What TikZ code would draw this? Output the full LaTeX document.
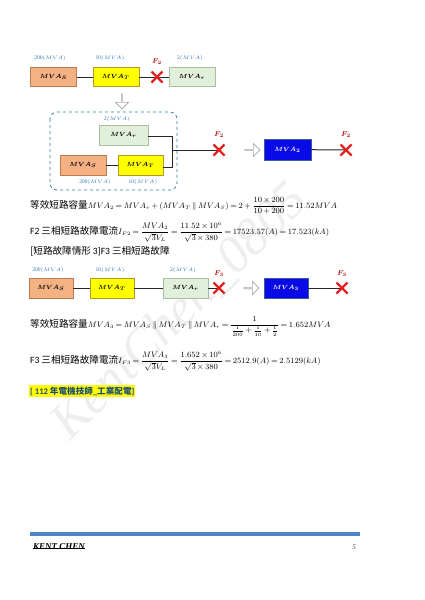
\documentclass[tikz,border=0pt]{standalone}
\usepackage{amsmath}
\usepackage{fontspec}
\setmainfont{Liberation Serif}
\newfontfamily\cjk{Noto Sans CJK TC}
\newfontfamily\calib{Carlito}
\usetikzlibrary{shapes.arrows,calc}
\definecolor{sfill}{HTML}{F4B183}
\definecolor{sdraw}{HTML}{C07A50}
\definecolor{tfill}{HTML}{FFFF00}
\definecolor{tdraw}{HTML}{B09A20}
\definecolor{rfill}{HTML}{E2EFDA}
\definecolor{rdraw}{HTML}{A8BFA0}
\definecolor{bfill}{HTML}{0A0AE6}
\definecolor{bdraw}{HTML}{3A5A9A}
\definecolor{lblue}{HTML}{2E75B6}
\definecolor{xred}{HTML}{E52222}
\definecolor{fred}{HTML}{B01515}
\definecolor{dteal}{HTML}{31859C}
\definecolor{footblue}{HTML}{4F87C4}
\definecolor{hltext}{HTML}{1F4E79}
\newcommand{\ctext}[1]{{\cjk\fontsize{9.6}{12}\selectfont #1}}
\newcommand{\ltext}[1]{{\calib\fontsize{9.6}{12}\selectfont #1}}
\newcommand{\tightmath}{\thickmuskip=3.5mu plus 2mu\medmuskip=3mu plus 1mu minus 1mu}
\tikzset{
  blk/.style={draw, line width=0.6pt, minimum width=46pt, minimum height=19pt, inner sep=0pt,
    font=\boldmath\fontsize{6}{7}\selectfont},
  sbox/.style={blk, fill=sfill, draw=sdraw},
  tbox/.style={blk, fill=tfill, draw=tdraw},
  rbox/.style={blk, fill=rfill, draw=rdraw},
  bbox/.style={blk, fill=bfill, draw=bdraw, text=white},
  mlbl/.style={text=lblue, font=\fontsize{5.5}{6}\selectfont, inner sep=0pt},
  flbl/.style={text=fred, font=\boldmath\fontsize{7.5}{8}\selectfont, inner sep=0pt},
  wire/.style={line width=1pt, black!85},
  xmark/.style={draw=xred, line width=2.4pt},
  harrow/.style={single arrow, draw=gray!70, fill=white, line width=0.6pt,
    minimum height=15pt, minimum width=13pt, single arrow head extend=2.5pt, inner sep=0pt},
  eqn/.style={anchor=base west, inner sep=0pt, font=\fontsize{7.8}{10}\selectfont\tightmath},
}
\newcommand{\redx}[1]{%
  \draw[xmark] ($(#1)+(-5.5,-5.5)$) -- ($(#1)+(5.5,5.5)$);
  \draw[xmark] ($(#1)+(-5.5,5.5)$) -- ($(#1)+(5.5,-5.5)$);}
\begin{document}
\begin{tikzpicture}[x=1pt,y=-1pt]
\useasboundingbox (0,0) rectangle (425,600);
\fill[white] (0,0) rectangle (425,600);
% watermark
\node[rotate=45, text=gray!13, font=\itshape\fontsize{52}{54}\selectfont, inner sep=0pt] (wm) at (180,312) {KentChen\_0805};

% ---------- row 1 ----------
\node[sbox] (s1) at (53.5,77) {$MVA_S$};
\node[tbox] (t1) at (116,77) {$MVA_T$};
\node[rbox] (r1) at (192,77) {$MVA_r$};
\node[mlbl] (ls1) at (50,58) {200$(MVA)$};
\node[mlbl] (lt1) at (110,58) {10$(MVA)$};
\node[mlbl] (lr1) at (190,58) {2$(MVA)$};
\coordinate (x1) at (157,77);
\draw[wire] (s1) -- (t1);
\draw[wire] (t1) -- (r1);
\redx{x1}
\node[flbl] (f1) at (157,62) {$F_2$};

% down arrow
\node[harrow, rotate=-90] (da) at (122,101) {};

% ---------- dashed group ----------
\draw[dteal, dashed, line width=0.8pt, rounded corners=7pt] (50,112) rectangle (177,190);
\node[rbox, minimum width=49pt, minimum height=20pt] (r2) at (123.5,135) {$MVA_r$};
\node[sbox, minimum height=20pt] (s2) at (83,165) {$MVA_S$};
\node[tbox, minimum width=45pt, minimum height=20pt] (t2) at (140.5,165) {$MVA_T$};
\node[mlbl] (lr2) at (117,119) {2$(MVA)$};
\node[mlbl] (ls2) at (95,182) {200$(MVA)$};
\node[mlbl] (lt2) at (143,182) {10$(MVA)$};
\coordinate (jt) at (172,136);
\coordinate (jb) at (172,167);
\coordinate (jm) at (172,150);
\coordinate (x2) at (219,150);
\draw[wire] (s2) -- (t2);
\draw[wire] (r2.east |- jt) -- (jt) -- (jb) -- (t2.east |- jb);
\draw[wire] (jm) -- (x2);
\redx{x2}
\node[flbl] (f2) at (219,135) {$F_2$};
\node[harrow] (ra1) at (252,150) {};
\node[bbox, minimum width=47pt, minimum height=21pt] (m2) at (287.5,149.5) {$MVA_2$};
\coordinate (x3) at (346,150);
\draw[wire] (m2) -- (x3);
\redx{x3}
\node[flbl] (f3) at (346,135) {$F_2$};

% ---------- equations ----------
\node[eqn] (e1) at (30,208) {\ctext{等效短路容量}$MVA_2=MVA_r+(MVA_T\parallel MVA_S)=2+\dfrac{10\times200}{10+200}=11.52MVA$};
\node[eqn] (e2) at (30,234) {\ltext{F2} \ctext{三相短路故障電流}$I_{F2}=\dfrac{MVA_2}{\sqrt{3}V_L}=\dfrac{11.52\times10^6}{\sqrt{3}\times380}=17523.57(A)=17.523(kA)$};
\node[eqn] (e3) at (30,254) {\ctext{[短路故障情形} \ltext{3]F3} \ctext{三相短路故障}};

% ---------- row 3 ----------
\node[sbox, minimum width=44pt, minimum height=20pt] (s3) at (51,288) {$MVA_S$};
\node[tbox, minimum width=44pt, minimum height=20pt] (t3) at (112,288) {$MVA_T$};
\node[rbox, minimum width=45pt, minimum height=20pt] (r3) at (185.5,288) {$MVA_r$};
\node[mlbl] (ls3) at (48,270) {200$(MVA)$};
\node[mlbl] (lt3) at (110,270) {10$(MVA)$};
\node[mlbl] (lr3) at (183,270) {2$(MVA)$};
\coordinate (x4) at (219,288);
\draw[wire] (s3) -- (t3);
\draw[wire] (t3) -- (r3);
\draw[wire] (r3) -- (x4);
\redx{x4}
\node[flbl] (f4) at (219,274) {$F_3$};
\node[harrow] (ra2) at (251,288) {};
\node[bbox, minimum width=44pt, minimum height=20pt] (m3) at (286,288) {$MVA_3$};
\coordinate (x5) at (342,288);
\draw[wire] (m3) -- (x5);
\redx{x5}
\node[flbl] (f5) at (342,274) {$F_3$};

% ---------- equations 2 ----------
\node[eqn] (e4) at (30,327) {\ctext{等效短路容量}$MVA_3=MVA_S\parallel MVA_T\parallel MVA_r=\dfrac{1}{\frac{1}{200}+\frac{1}{10}+\frac{1}{2}}=1.652MVA$};
\node[eqn] (e5) at (30,363) {\ltext{F3} \ctext{三相短路故障電流}$I_{F3}=\dfrac{MVA_3}{\sqrt{3}V_L}=\dfrac{1.652\times10^6}{\sqrt{3}\times380}=2512.9(A)=2.5129(kA)$};

% highlight
\node[anchor=west, fill=tfill, text=hltext, inner xsep=1pt, inner ysep=1.5pt,
  font=\bfseries\fontsize{8.6}{10}\selectfont] (hl) at (29,391) {{\calib [ 112 }{\cjk 年電機技師}{\calib \_}{\cjk 工業配電}{\calib ]}};

% footer
\fill[footblue] (30,532) rectangle (360,535.5);
\node[anchor=base west, inner sep=0pt, font=\bfseries\itshape\fontsize{9}{10}\selectfont] (kc) at (33,549) {KENT CHEN};
\draw[line width=0.5pt] ([yshift=1pt]kc.south west) -- ([yshift=1pt]kc.south east);
\node[anchor=base, inner sep=0pt, font=\itshape\fontsize{7}{8}\selectfont, text=black!70] (pg) at (354,549) {5};
\end{tikzpicture}
\end{document}
